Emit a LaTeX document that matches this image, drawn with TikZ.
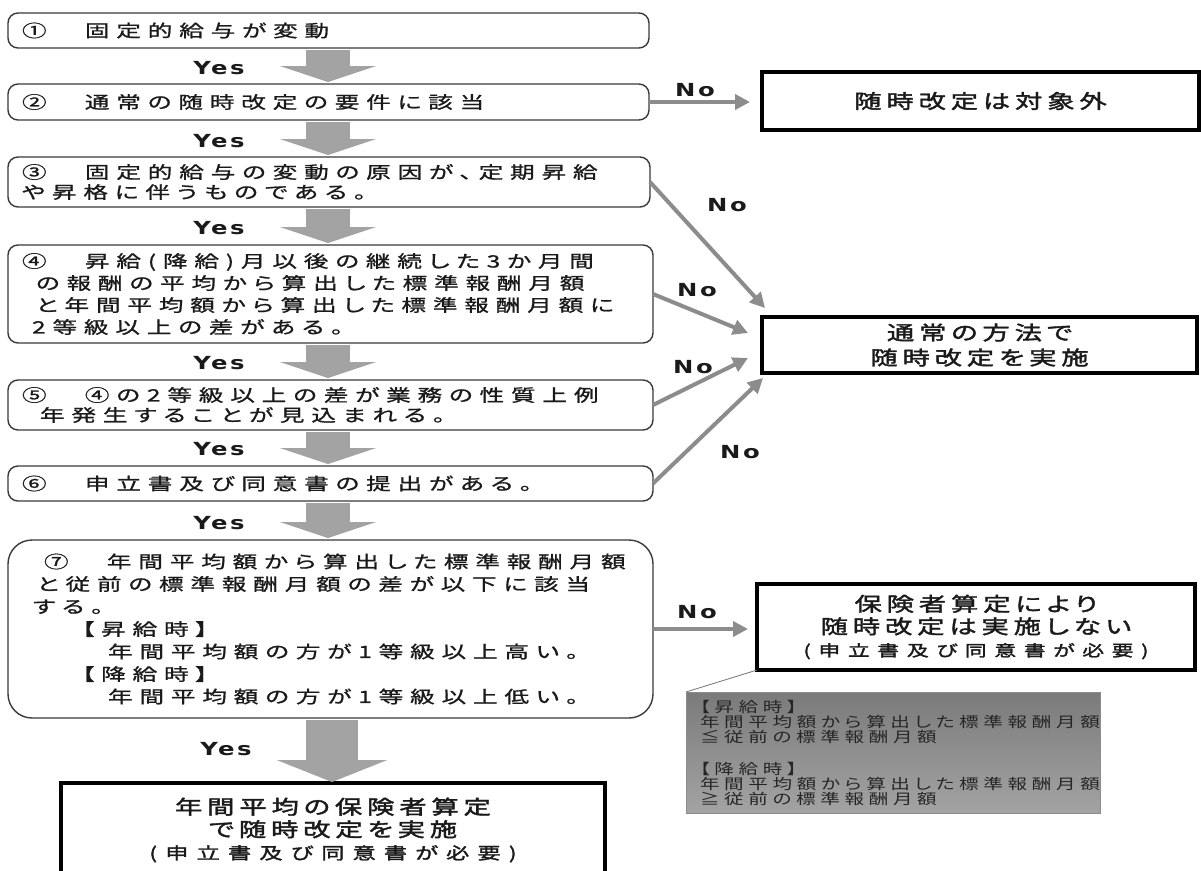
\documentclass[tikz,border=0pt]{standalone}
\usepackage{fontspec}
\usetikzlibrary{arrows.meta,calc}
\newfontfamily\jpr[RawFeature=+palt,FakeStretch=1.45,LetterSpace=40,FakeBold=1]{Noto Sans CJK JP}
\newfontfamily\jpbf[RawFeature=+palt,FakeStretch=1.4,LetterSpace=25,FakeBold=2]{Noto Sans CJK JP}
\newfontfamily\jpsm[RawFeature=+palt,FakeStretch=1.4,LetterSpace=50,FakeBold=2]{Noto Sans CJK JP}
\newfontfamily\jpnote[RawFeature=+palt,FakeStretch=1.35,LetterSpace=32]{Noto Sans CJK JP}
\newfontfamily\ynf[FakeStretch=1.35,LetterSpace=14]{DejaVu Sans}
\definecolor{ink}{HTML}{1A1A1A}
\definecolor{boxline}{HTML}{3A3A3A}
\definecolor{fatgray}{HTML}{A3A3A3}
\definecolor{arrgray}{HTML}{8C8C8C}
\definecolor{notetext}{HTML}{262626}
\begin{document}
\begin{tikzpicture}[x=1pt,y=-1pt,
  every node/.style={inner sep=0pt, outer sep=0pt},
  qbox/.style={draw=boxline, line width=1.4pt, rounded corners=10pt, fill=white, anchor=north west,
    align=left, inner xsep=14pt, text=ink, font=\jpr\fontsize{17}{20}\selectfont},
  rbox/.style={draw=black, line width=3.5pt, fill=white, anchor=north west, align=center, text=ink},
  bigtxt/.style={font=\jpbf\fontsize{19.5}{25}\selectfont},
  restxt/.style={font=\jpbf\fontsize{19.5}{22.5}\selectfont},
  fat/.style={draw=fatgray, line width=44pt, -{Triangle[width=96pt,length=16pt]}, shorten <=2pt, shorten >=2pt},
  fatbig/.style={draw=fatgray, line width=52pt, -{Triangle[width=110pt,length=22pt]}, shorten <=2pt, shorten >=1pt},
  noarr/.style={draw=arrgray, line width=4pt, -{Triangle[width=15pt,length=15pt]}},
  lab/.style={font=\ynf\bfseries\fontsize{18}{18}\selectfont, text=ink},
  notebox/.style={draw=black!45, line width=0.6pt, top color=black!52, bottom color=black!36, anchor=north west,
    align=left, inner xsep=14pt, text=notetext, font=\jpnote\fontsize{14.5}{15}\selectfont},
]
\fill[white] (0,0) rectangle (1201,870);
\useasboundingbox (0,0) rectangle (1201,870);
\coordinate (ax) at (328,0);
\coordinate (bx) at (332,0);

% question boxes
\node[qbox, text width=613pt, minimum height=35pt] (n1) at (8,13) {①　固定的給与が変動};
\node[qbox, text width=613pt, minimum height=36pt] (n2) at (8,84) {②　通常の随時改定の要件に該当};
\node[qbox, text width=614pt, minimum height=50pt] (n3) at (8,157)
  {③　固定的給与の変動の原因が、定期昇給\\や昇格に伴うものである。};
\node[qbox, text width=617pt, minimum height=98pt, font=\jpr\fontsize{17}{22}\selectfont] (n4) at (8,245)
  {④　昇給(降給)月以後の継続した3か月間\\\hspace*{14pt}の報酬の平均から算出した標準報酬月額\\\hspace*{14pt}と年間平均額から算出した標準報酬月額に\\\hspace*{10pt}2等級以上の差がある。};
\node[qbox, text width=617pt, minimum height=50pt] (n5) at (8,380)
  {⑤　④の2等級以上の差が業務の性質上例\\\hspace*{18pt}年発生することが見込まれる。};
\node[qbox, text width=617pt, minimum height=35pt] (n6) at (8,466) {⑥　申立書及び同意書の提出がある。};
\node[qbox, rounded corners=24pt, text width=617pt, minimum height=178pt, font=\jpr\fontsize{17}{22.5}\selectfont] (n7) at (8,540)
  {\hspace*{22pt}⑦　年間平均額から算出した標準報酬月額\\\hspace*{15pt}と従前の標準報酬月額の差が以下に該当\\\hspace*{11pt}する。\\\hspace*{60pt}【昇給時】\\\hspace*{86pt}年間平均額の方が1等級以上高い。\\\hspace*{60pt}【降給時】\\\hspace*{86pt}年間平均額の方が1等級以上低い。};

% result boxes
\node[rbox, minimum width=437pt, minimum height=58pt, bigtxt] (r1) at (762,72) {随時改定は対象外};
\node[rbox, minimum width=435pt, minimum height=56pt, bigtxt] (r2) at (762,317) {通常の方法で\\随時改定を実施};
\node[rbox, minimum width=438pt, minimum height=86pt, restxt] (r3) at (757,584)
  {保険者算定により\\随時改定は実施しない\\{\jpsm\fontsize{15.5}{22.5}\selectfont (申立書及び同意書が必要)}};
\node[rbox, minimum width=544pt, minimum height=94pt, restxt] (nb) at (61,783)
  {年間平均の保険者算定\\で随時改定を実施\\{\jpsm\fontsize{16.5}{22}\selectfont (申立書及び同意書が必要)}};
\node[notebox, text width=386pt, minimum width=414pt, minimum height=121pt] (note) at (686,692)
  {【昇給時】\\年間平均額から算出した標準報酬月額\\≦従前の標準報酬月額\\[17pt]【降給時】\\年間平均額から算出した標準報酬月額\\≧従前の標準報酬月額};
\draw[draw=black!55, line width=0.8pt] (note.north west) -- (r3.south west);

% Yes flow
\draw[fat] (n1.south -| ax) -- (n2.north -| ax);
\draw[fat] (n2.south -| ax) -- (n3.north -| ax);
\draw[fat] (n3.south -| ax) -- (n4.north -| ax);
\draw[fat] (n4.south -| ax) -- (n5.north -| ax);
\draw[fat] (n5.south -| ax) -- (n6.north -| ax);
\draw[fat] (n6.south -| ax) -- (n7.north -| ax);
\draw[fatbig] (n7.south -| bx) -- (nb.north -| bx);

\node[lab] (y1) at (219,68) {Yes};
\node[lab] (y2) at (219,141) {Yes};
\node[lab] (y3) at (219,228) {Yes};
\node[lab] (y4) at (219,363) {Yes};
\node[lab] (y5) at (219,449) {Yes};
\node[lab] (y6) at (219,523) {Yes};
\node[lab] (y7) at (226,749) {Yes};

% No arrows
\draw[noarr, shorten >=12pt] (n2.east) -- (n2.east -| r1.west);
\draw[noarr] (n3.east) -- ([shift={(3,-9)}]r2.north west);
\draw[noarr] (n4.east) -- ([shift={(-14,-12)}]r2.west);
\draw[noarr] (n5.east) -- ([shift={(-14,13)}]r2.west);
\draw[noarr] (n6.east) -- ([shift={(1,5)}]r2.south west);
\draw[noarr, shorten >=9pt] (n7.east) -- (n7.east -| r3.west);

\node[lab] (no2) at (695,90) {No};
\node[lab] (no3) at (727,205) {No};
\node[lab] (no4) at (697,290) {No};
\node[lab] (no5) at (693,367) {No};
\node[lab] (no6) at (740,452) {No};
\node[lab] (no7) at (697,612) {No};
\end{tikzpicture}
\end{document}
